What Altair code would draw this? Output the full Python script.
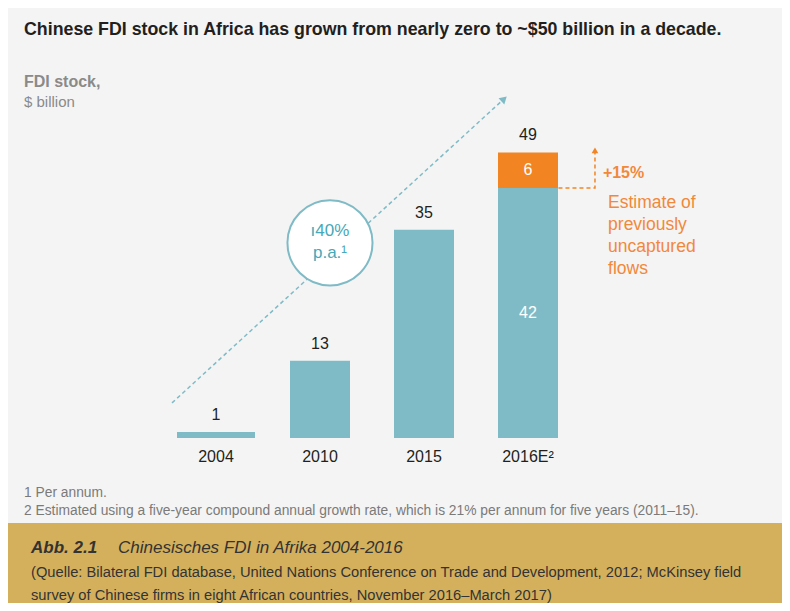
import altair as alt
import pandas as pd

# ---- data ----
years = ["2004", "2010", "2015", "2016E²"]
captured = [1, 13, 35, 42]
uncaptured = [0, 0, 0, 6]
total_labels = ["1", "13", "35", "49"]

# annotation geometry in data units (x = bar index, y = $ billion)
trend_x = [-0.423, 2.77]
trend_y = [5.9, 57.0]
growth_text = ["ı40%", "p.a.¹"]
est_x = [3.293, 3.644, 3.644]
est_y = [42, 42, 48.0]

TEAL = "#7fbbc6"
TEAL_TXT = "#46a8b8"
ORANGE = "#f28522"
ORANGE_TXT = "#f2883a"
DARK = "#231f20"
GREY = "#8a8a8a"
BG = "#f4f4f4"
GOLD = "#d4b05c"
FONT = "Liberation Sans"
CAPFONT = "Liberation Sans"

W, H = 416, 357
PL, PT = 156, 73
TOTAL_W, TOTAL_H = 774, 595

df = pd.DataFrame({
    "idx": list(range(len(years))),
    "year": years,
    "captured": captured,
    "uncaptured": uncaptured,
    "label": total_labels,
})
df["top"] = df["captured"] + df["uncaptured"]

xs = alt.Scale(domain=[-0.5, 3.5], nice=False, zero=False, padding=0)
ys = alt.Scale(domain=[0, 60], nice=False, padding=0)


def X(f):
    return alt.X(f"{f}:Q", scale=xs, axis=None)


def Y(f):
    return alt.Y(f"{f}:Q", scale=ys, axis=None)


base = alt.Chart(df)

bars_first = base.transform_filter("datum.idx == 0").mark_bar(size=78, color=TEAL).encode(
    x=X("idx"), y=Y("captured"))
bars_rest = base.transform_filter("datum.idx > 0").mark_bar(size=60, color=TEAL).encode(
    x=X("idx"), y=Y("captured"))
bars_extra = base.transform_filter("datum.uncaptured > 0").mark_bar(size=60, color=ORANGE).encode(
    x=X("idx"), y=Y("top"), y2="captured:Q")

top_labels = base.mark_text(dy=-12, baseline="alphabetic", fontSize=16, font=FONT, color=DARK).encode(
    x=X("idx"), y=Y("top"), text="label:N")

inner_extra = base.transform_filter("datum.uncaptured > 0").transform_calculate(
    mid="datum.captured + datum.uncaptured / 2").mark_text(
    baseline="middle", fontSize=16, font=FONT, color="white").encode(
    x=X("idx"), y=Y("mid"), text="uncaptured:N")
inner_cap = base.transform_filter("datum.uncaptured > 0").transform_calculate(
    mid="datum.captured / 2").mark_text(
    baseline="middle", fontSize=16, font=FONT, color="white").encode(
    x=X("idx"), y=Y("mid"), text="captured:N")

year_labels = base.mark_text(baseline="alphabetic", dy=24, fontSize=16, font=FONT, color=DARK).encode(
    x=X("idx"), y=alt.value(H), text="year:N")

# growth trend arrow
trend_df = pd.DataFrame({"x": trend_x, "y": trend_y})
trend_line = alt.Chart(trend_df).mark_line(color=TEAL, strokeDash=[4, 3], strokeWidth=1.5).encode(
    x=X("x"), y=Y("y"))
trend_head = alt.Chart(trend_df.tail(1)).mark_point(
    shape="triangle-up", filled=True, angle=47, size=70, color=TEAL, opacity=1).encode(
    x=X("x"), y=Y("y"))

circle_df = pd.DataFrame({"x": [1.096], "y": [32.8]})
circle = alt.Chart(circle_df).mark_circle(size=7238, fill="white", stroke=TEAL, strokeWidth=2, opacity=1).encode(
    x=X("x"), y=Y("y"))
circ_txt_df = pd.DataFrame({"x": [1.096, 1.096], "y": [34.8, 31.1], "t": growth_text})
circle_text = alt.Chart(circ_txt_df).mark_text(baseline="middle", fontSize=17, font=FONT, color=TEAL_TXT).encode(
    x=X("x"), y=Y("y"), text="t:N")

# uncaptured estimate arrow
est_df = pd.DataFrame({"x": est_x, "y": est_y, "o": [0, 1, 2]})
est_line = alt.Chart(est_df).mark_line(color=ORANGE, strokeDash=[4, 3], strokeWidth=1.5, clip=False).encode(
    x=X("x"), y=Y("y"), order="o:Q")
est_head = alt.Chart(est_df.tail(1)).mark_point(
    shape="triangle-up", filled=True, size=45, color=ORANGE, opacity=1, yOffset=-2, clip=False).encode(
    x=X("x"), y=Y("y"))
pct_df = pd.DataFrame({"x": [3.72], "y": [44.5], "t": ["+15%"]})
pct_text = alt.Chart(pct_df).mark_text(align="left", baseline="middle", fontSize=16, fontWeight="bold",
                                       font=FONT, color=ORANGE_TXT, clip=False).encode(
    x=X("x"), y=Y("y"), text="t:N")
note_df = pd.DataFrame({"x": [3.77], "y": [38.7], "t": ["Estimate of\npreviously\nuncaptured\nflows"]})
note_text = alt.Chart(note_df).mark_text(align="left", baseline="alphabetic", fontSize=17.5, lineHeight=22,
                                         lineBreak="\n", font=FONT, color=ORANGE_TXT, clip=False).encode(
    x=X("x"), y=Y("y"), text="t:N")

# frame texts (pixel positions relative to plot origin)
one = pd.DataFrame({"a": [0]})


def txt(s, x, y, **kw):
    return alt.Chart(one).mark_text(align="left", baseline="alphabetic", text=s, **kw).encode(
        x=alt.value(x), y=alt.value(y))


title = txt("Chinese FDI stock in Africa has grown from nearly zero to ~$50 billion in a decade.",
            -140, -46, fontSize=17.8, fontWeight="bold", font=FONT, color=DARK)
ylab1 = txt("FDI stock,", -140, 6, fontSize=16, fontWeight="bold", font=FONT, color=GREY)
ylab2 = txt("$ billion", -140, 26, fontSize=15, font=FONT, color=GREY)
fn1 = txt("1 Per annum.", -140, 416, fontSize=13.8, font=FONT, color="#7a7a7a")
fn2 = txt("2 Estimated using a five-year compound annual growth rate, which is 21% per annum for five years (2011–15).",
          -140, 434, fontSize=13.8, font=FONT, color="#7a7a7a")

band = alt.Chart(one).mark_rect(color=GOLD).encode(
    x=alt.value(-PL), x2=alt.value(TOTAL_W - PL), y=alt.value(442), y2=alt.value(TOTAL_H - PT))
cap_a = txt("Abb. 2.1", -133, 472, fontSize=17, fontWeight="bold", fontStyle="italic", font=CAPFONT, color="#333333")
cap_b = txt("Chinesisches FDI in Afrika 2004-2016", -46, 472, fontSize=17, fontStyle="italic", font=CAPFONT,
            color="#333333")
cap_c = txt("(Quelle: Bilateral FDI database, United Nations Conference on Trade and Development, 2012; McKinsey field",
            -133, 496, fontSize=14.7, font=CAPFONT, color="#333333")
cap_d = txt("survey of Chinese firms in eight African countries, November 2016–March 2017)",
            -133, 519, fontSize=14.7, font=CAPFONT, color="#333333")

chart = alt.layer(
    band, trend_line, trend_head, circle, circle_text,
    bars_first, bars_rest, bars_extra, top_labels, inner_extra, inner_cap, year_labels,
    est_line, est_head, pct_text, note_text,
    title, ylab1, ylab2, fn1, fn2, cap_a, cap_b, cap_c, cap_d,
).properties(
    width=W, height=H,
    autosize=alt.AutoSizeParams(type="none"),
    padding={"left": PL, "top": PT, "right": TOTAL_W - PL - W, "bottom": TOTAL_H - PT - H},
    background=BG,
).configure_view(stroke=None)

chart.save("out.html", embed_options={"renderer": "svg", "actions": False})
